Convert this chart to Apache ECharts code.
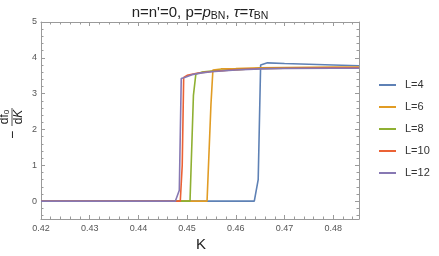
<!DOCTYPE html>
<html><head><meta charset="utf-8">
<script src="https://cdn.jsdelivr.net/npm/echarts@6/dist/echarts.min.js"></script>
<style>html,body{margin:0;padding:0;background:#fff}#c{width:439px;height:256px}</style>
</head><body><div id="c"></div>
<script>
const seriesNames = ['L=4','L=6','L=8','L=10','L=12'];
const colors = ['#5E81B5','#E19C24','#8FB032','#EB6235','#8778B3'];
const dataL4 = [[0.42,0],[0.4638,0],[0.4646,0.6],[0.4651,3.80],[0.4665,3.86],[0.470,3.84],[0.475,3.82],[0.480,3.80],[0.4853,3.78]];
const dataL6 = [[0.42,0],[0.4541,0],[0.4549,2.7],[0.4553,3.66],[0.457,3.69],[0.460,3.70],[0.465,3.72],[0.470,3.73],[0.480,3.74],[0.4853,3.74]];
const dataL8 = [[0.42,0],[0.4506,0],[0.4513,2.95],[0.4518,3.55],[0.453,3.60],[0.455,3.63],[0.460,3.67],[0.465,3.70],[0.470,3.71],[0.480,3.72],[0.4853,3.72]];
const dataL10 = [[0.42,0],[0.4486,0],[0.4490,1.0],[0.4493,3.45],[0.450,3.51],[0.452,3.57],[0.455,3.62],[0.460,3.67],[0.465,3.70],[0.470,3.71],[0.480,3.72],[0.4853,3.72]];
const dataL12 = [[0.42,0],[0.4476,0],[0.4484,0.3],[0.4488,3.42],[0.4495,3.45],[0.451,3.53],[0.453,3.58],[0.455,3.61],[0.460,3.66],[0.465,3.69],[0.470,3.70],[0.480,3.71],[0.4853,3.71]];
const allData = [dataL4, dataL6, dataL8, dataL10, dataL12];
const xMajorTicks = [0.42,0.43,0.44,0.45,0.46,0.47,0.48];
const xMinorTicks = [0.422,0.424,0.426,0.428,0.432,0.434,0.436,0.438,0.442,0.444,0.446,0.448,0.452,0.454,0.456,0.458,0.462,0.464,0.466,0.468,0.472,0.474,0.476,0.478,0.482,0.484];
const yMajorTicks = [0,1,2,3,4,5];
const yMinorTicks = [-0.4,-0.2,0.2,0.4,0.6,0.8,1.2,1.4,1.6,1.8,2.2,2.4,2.6,2.8,3.2,3.4,3.6,3.8,4.2,4.4,4.6,4.8];
const xMin = 0.42, xMax = 0.4853, yMin = -0.5, yMax = 5;

const frameColor = '#9a9a9a';
const labelColor = '#555';
function xAx(pos, ticks, len, labels, line) {
  return {type:'value', min:xMin, max:xMax, position:pos,
    axisLine:{show:line, onZero:false, lineStyle:{color:frameColor, width:1}},
    axisTick:{show:true, inside:true, length:len, customValues:ticks, lineStyle:{color:frameColor}},
    axisLabel:{show:labels, customValues:ticks, color:labelColor, fontSize:9, fontFamily:'Liberation Sans', margin:5,
      formatter:v=>v.toFixed(2)},
    splitLine:{show:false}};
}
function yAx(pos, ticks, len, labels, line) {
  return {type:'value', min:yMin, max:yMax, position:pos,
    axisLine:{show:line, onZero:false, lineStyle:{color:frameColor, width:1}},
    axisTick:{show:true, inside:true, length:len, customValues:ticks, lineStyle:{color:frameColor}},
    axisLabel:{show:labels, customValues:ticks, color:labelColor, fontSize:9, fontFamily:'Liberation Sans', margin:4,
      formatter:v=>String(v)},
    splitLine:{show:false}};
}
const chart = echarts.init(document.getElementById('c'), null, {renderer:'canvas'});
chart.setOption({
  animation:false,
  grid:{left:41, right:80, top:22, bottom:37, containLabel:false},
  xAxis:[xAx('bottom', xMajorTicks, 4, true, true), xAx('bottom', xMinorTicks, 2.5, false, false),
         xAx('top', xMajorTicks, 4, false, true), xAx('top', xMinorTicks, 2.5, false, false)],
  yAxis:[yAx('left', yMajorTicks, 4, true, true), yAx('left', yMinorTicks, 2.5, false, false),
         yAx('right', yMajorTicks, 4, false, true), yAx('right', yMinorTicks, 2.5, false, false)],
  legend:{orient:'vertical', left:374, top:73, itemWidth:17, itemHeight:14, itemGap:8,
    icon:'path://M0,6 L17,6 L17,8 L0,8 Z',
    formatter: n => '{t|' + n + '}',
    textStyle:{fontSize:11, color:'#333', fontFamily:'Liberation Sans',
      rich:{t:{fontSize:11, color:'#333', fontFamily:'Liberation Sans', padding:[0,0,0,4], height:14, lineHeight:14}}},
    data:seriesNames},
  series: seriesNames.map((n,i)=>({name:n, type:'line', xAxisIndex:0, yAxisIndex:0, data:allData[i],
    showSymbol:false, symbol:'none', lineStyle:{width:1.6, color:colors[i]}, itemStyle:{color:colors[i]}, z:2+i})),
  graphic:[
    {type:'text', x:200, y:13, style:{
      text:"{n|n=n'=0, p=}{i|p}{s|BN}{n|, }{i|τ}{n|=}{i|τ}{s|BN}", align:'center', verticalAlign:'middle',
      rich:{n:{fontSize:15, fontFamily:'Liberation Sans', fill:'#222'},
            i:{fontSize:15, fontFamily:'Liberation Sans', fontStyle:'italic', fill:'#222'},
            s:{fontSize:10.5, fontFamily:'Liberation Sans', fill:'#222', padding:[7,0,0,0]}}}},
    {type:'group', x:12, y:119, rotation:Math.PI/2, children:[
      {type:'text', x:-16, y:1, style:{text:'−', fontSize:14, fontFamily:'Liberation Sans', fill:'#222', align:'center', verticalAlign:'middle'}},
      {type:'text', x:2, y:-1, style:{text:'{a|df}{s|0}', align:'center', verticalAlign:'bottom',
        rich:{a:{fontSize:12, fontFamily:'Liberation Sans', fill:'#222'}, s:{fontSize:8, fontFamily:'Liberation Sans', fill:'#222', padding:[5,0,0,0]}}}},
      {type:'line', shape:{x1:-7, y1:0, x2:11, y2:0}, style:{stroke:'#222', lineWidth:0.8}},
      {type:'text', x:2, y:1, style:{text:'{a|d}{b|K}', align:'center', verticalAlign:'top',
        rich:{a:{fontSize:12, fontFamily:'Liberation Sans', fill:'#222'}, b:{fontSize:12, fontFamily:'Liberation Sans', fontStyle:'italic', fill:'#222'}}}}
    ]},
    {type:'text', x:201, y:245, style:{text:'K', fontSize:15, fontFamily:'Liberation Sans', fill:'#222', align:'center', verticalAlign:'middle'}}
  ]
});
</script></body></html>
